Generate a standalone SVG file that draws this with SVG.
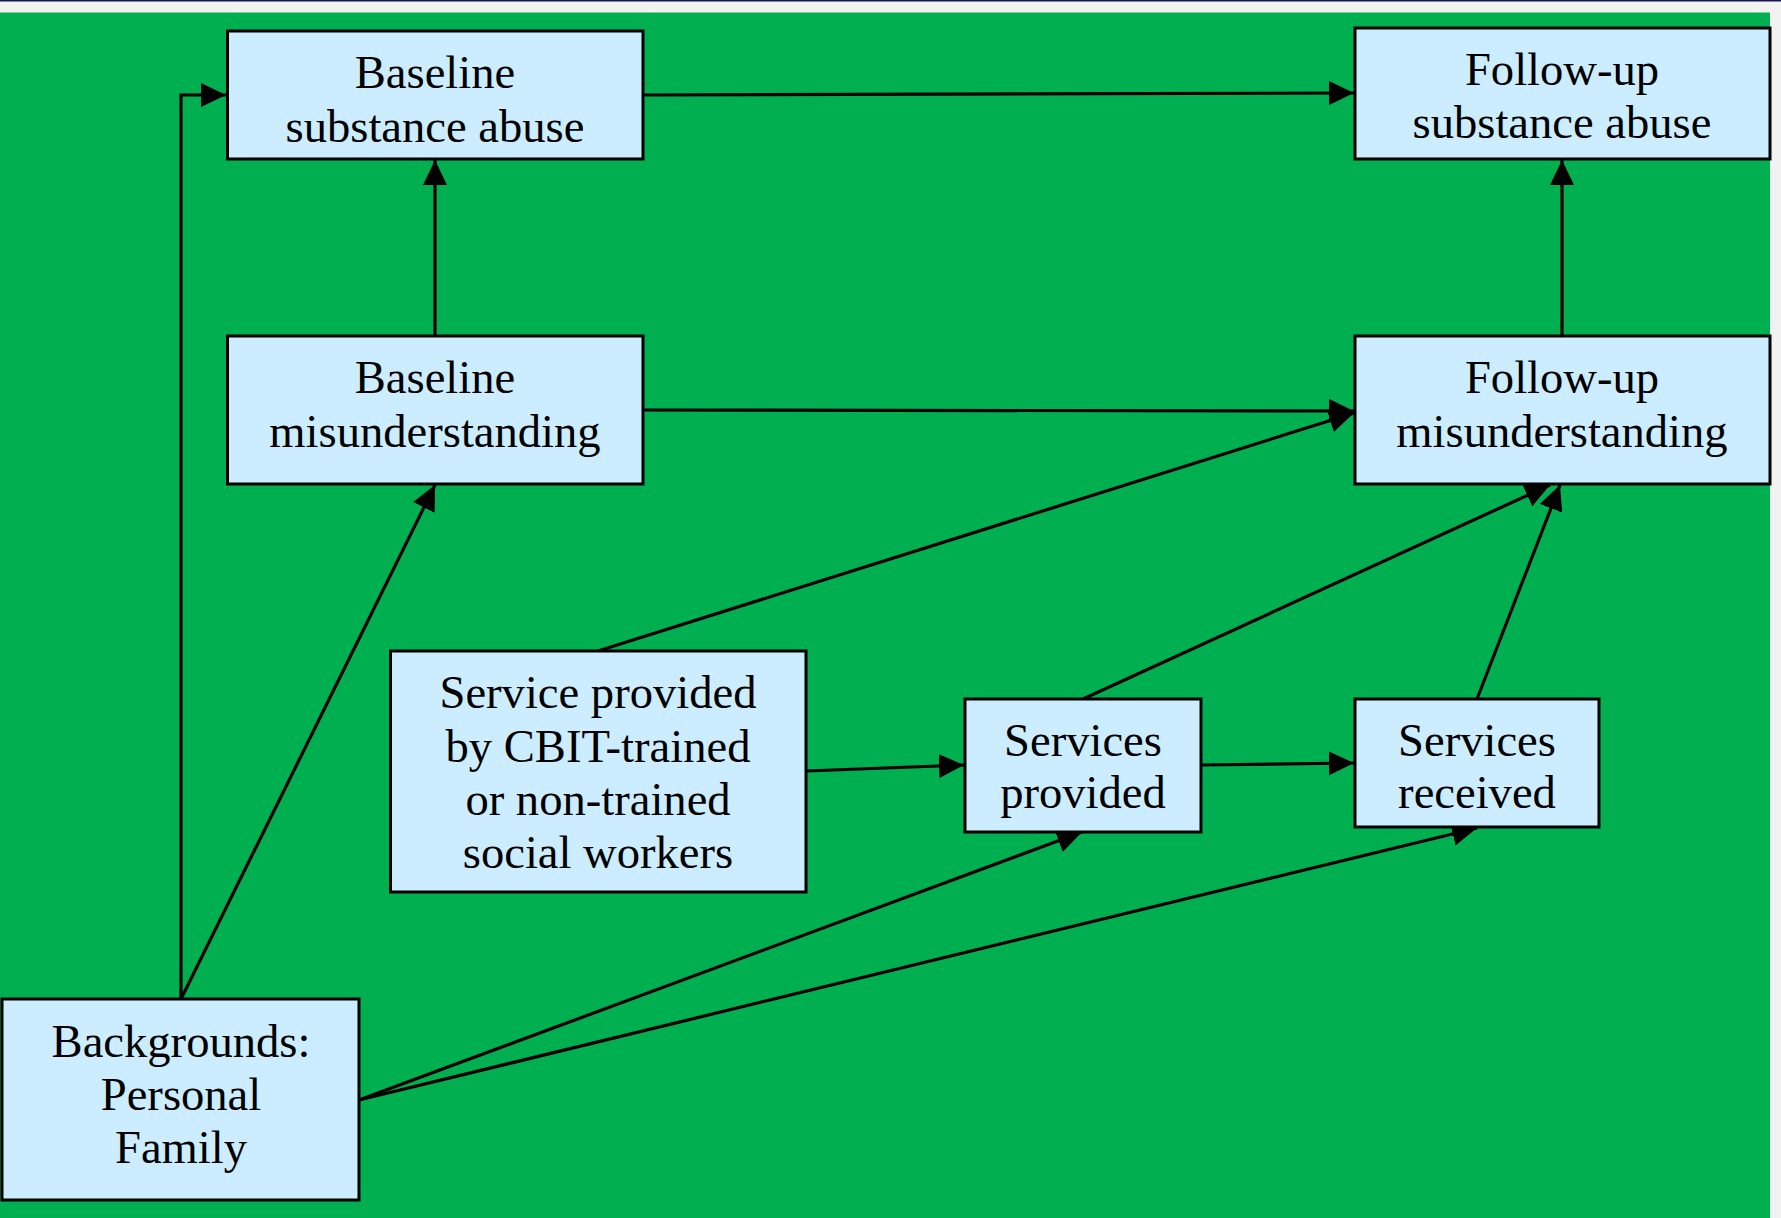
<svg xmlns="http://www.w3.org/2000/svg" width="1781" height="1218" viewBox="0 0 1781 1218">
<style>
.box{fill:#CCECFF;stroke:#000;stroke-width:3}
.lbl{font-family:"Liberation Serif","Times New Roman",serif;font-size:46.6px;fill:#000;text-anchor:middle}
.edge{fill:none;stroke:#000;stroke-width:3.2}
</style>
<defs>
<marker id="arr" markerUnits="userSpaceOnUse" markerWidth="28" markerHeight="26" refX="25" refY="12" orient="auto">
<path d="M0,0 L25,12 L0,24 z" fill="#000"/>
</marker>
</defs>
<rect x="0" y="0" width="1781" height="1218" fill="#F2F2F2"/>
<rect x="0" y="0" width="1781" height="1.5" fill="#14144F"/>
<rect x="0" y="12.5" width="1770" height="1205.5" fill="#00AF50"/>
<g id="connectors">
<polyline class="edge" points="181,999 181,95 226,95" marker-end="url(#arr)"/>
<line class="edge" x1="181" y1="999" x2="435" y2="485" marker-end="url(#arr)"/>
<line class="edge" x1="435" y1="336" x2="435" y2="160" marker-end="url(#arr)"/>
<line class="edge" x1="643" y1="95" x2="1354" y2="93" marker-end="url(#arr)"/>
<line class="edge" x1="643" y1="410" x2="1354" y2="411" marker-end="url(#arr)"/>
<line class="edge" x1="598" y1="651" x2="1354" y2="413" marker-end="url(#arr)"/>
<line class="edge" x1="1562" y1="336" x2="1562" y2="160" marker-end="url(#arr)"/>
<line class="edge" x1="806" y1="771" x2="964" y2="765" marker-end="url(#arr)"/>
<line class="edge" x1="1201" y1="765" x2="1354" y2="763" marker-end="url(#arr)"/>
<line class="edge" x1="1083" y1="699" x2="1550" y2="485" marker-end="url(#arr)"/>
<line class="edge" x1="1477" y1="699" x2="1560" y2="485" marker-end="url(#arr)"/>
<line class="edge" x1="359" y1="1100" x2="1082" y2="832" marker-end="url(#arr)"/>
<line class="edge" x1="359" y1="1100" x2="1477" y2="828" marker-end="url(#arr)"/>
</g>
<g id="baseline-substance">
<rect class="box" x="227.5" y="31" width="415.5" height="128"/>
<text class="lbl" x="435" y="88">Baseline</text>
<text class="lbl" x="435" y="142">substance abuse</text>
</g>
<g id="followup-substance">
<rect class="box" x="1355" y="28" width="415" height="131"/>
<text class="lbl" x="1562" y="85">Follow-up</text>
<text class="lbl" x="1562" y="138">substance abuse</text>
</g>
<g id="baseline-misunderstanding">
<rect class="box" x="227.5" y="336" width="415.5" height="148"/>
<text class="lbl" x="435" y="393">Baseline</text>
<text class="lbl" x="435" y="447">misunderstanding</text>
</g>
<g id="followup-misunderstanding">
<rect class="box" x="1355" y="336" width="415" height="148"/>
<text class="lbl" x="1562" y="393">Follow-up</text>
<text class="lbl" x="1562" y="447">misunderstanding</text>
</g>
<g id="service-cbit">
<rect class="box" x="390.5" y="651" width="415.5" height="241"/>
<text class="lbl" x="598" y="708">Service provided</text>
<text class="lbl" x="598" y="762">by CBIT-trained</text>
<text class="lbl" x="598" y="815">or non-trained</text>
<text class="lbl" x="598" y="868">social workers</text>
</g>
<g id="services-provided">
<rect class="box" x="965" y="699" width="236" height="133"/>
<text class="lbl" x="1083" y="756">Services</text>
<text class="lbl" x="1083" y="808">provided</text>
</g>
<g id="services-received">
<rect class="box" x="1355" y="699" width="244" height="128"/>
<text class="lbl" x="1477" y="756">Services</text>
<text class="lbl" x="1477" y="808">received</text>
</g>
<g id="backgrounds">
<rect class="box" x="2" y="999" width="357" height="201"/>
<text class="lbl" x="181" y="1057">Backgrounds:</text>
<text class="lbl" x="181" y="1110">Personal</text>
<text class="lbl" x="181" y="1163">Family</text>
</g>
</svg>
